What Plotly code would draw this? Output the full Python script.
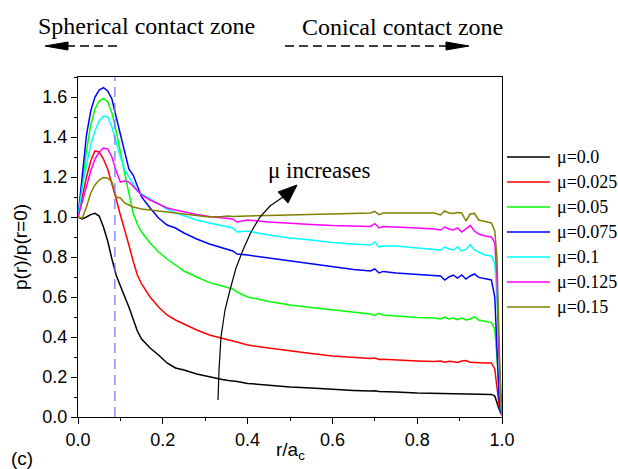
import plotly.graph_objects as go

# ---------------- data ----------------
r = [0, 0.01, 0.02, 0.03, 0.04, 0.05, 0.06, 0.07, 0.08, 0.09, 0.10, 0.11, 0.12, 0.13, 0.14, 0.15,
     0.17, 0.19, 0.21, 0.23, 0.25, 0.28, 0.31, 0.34, 0.355, 0.365, 0.375, 0.40, 0.45, 0.50, 0.55,
     0.60, 0.65, 0.69, 0.70, 0.71, 0.72, 0.75, 0.80, 0.84, 0.855, 0.865, 0.875, 0.885, 0.895,
     0.905, 0.915, 0.925, 0.935, 0.945, 0.96, 0.975, 0.983, 0.988, 0.993, 0.997, 1.0]

p_mu0 = [1.0, 0.99, 1.0, 1.012, 1.018, 1.005, 0.95, 0.88, 0.79, 0.71, 0.655, 0.605, 0.55, 0.49, 0.43, 0.39,
         0.345, 0.31, 0.27, 0.245, 0.235, 0.215, 0.2, 0.187, 0.182, 0.18, 0.177, 0.168, 0.158, 0.15, 0.145,
         0.138, 0.133, 0.13, 0.131, 0.128, 0.128, 0.125, 0.12, 0.118, 0.118, 0.12, 0.117, 0.118, 0.116,
         0.117, 0.116, 0.115, 0.116, 0.115, 0.114, 0.113, 0.105, 0.07, 0.04, 0.02, 0.01]

p_mu0025 = [1.0, 1.1, 1.2, 1.28, 1.33, 1.325, 1.29, 1.24, 1.17, 1.09, 1.01, 0.94, 0.86, 0.78, 0.71, 0.665,
            0.6, 0.55, 0.51, 0.485, 0.465, 0.435, 0.41, 0.392, 0.385, 0.38, 0.375, 0.36, 0.345, 0.33, 0.318,
            0.305, 0.298, 0.292, 0.295, 0.288, 0.289, 0.285, 0.28, 0.277, 0.28, 0.274, 0.279, 0.276, 0.273,
            0.28, 0.282, 0.274, 0.272, 0.271, 0.27, 0.27, 0.24, 0.15, 0.06, 0.02, 0.01]

p_mu005 = [1.0, 1.18, 1.33, 1.46, 1.54, 1.58, 1.593, 1.575, 1.52, 1.43, 1.32, 1.22, 1.12, 1.02, 0.965, 0.925,
           0.87, 0.825, 0.79, 0.76, 0.73, 0.70, 0.672, 0.655, 0.648, 0.64, 0.625, 0.60, 0.578, 0.56, 0.548,
           0.535, 0.525, 0.515, 0.508, 0.518, 0.51, 0.505, 0.498, 0.495, 0.49, 0.5, 0.49, 0.495, 0.487,
           0.495, 0.485, 0.49, 0.502, 0.485, 0.478, 0.472, 0.44, 0.3, 0.12, 0.04, 0.01]

p_mu0075 = [1.0, 1.22, 1.41, 1.53, 1.6, 1.635, 1.647, 1.63, 1.59, 1.5, 1.41, 1.32, 1.24, 1.21, 1.15, 1.1,
            1.045, 0.995, 0.96, 0.945, 0.92, 0.89, 0.865, 0.848, 0.838, 0.83, 0.815, 0.81, 0.795, 0.78, 0.765,
            0.75, 0.737, 0.73, 0.74, 0.72, 0.728, 0.72, 0.712, 0.705, 0.705, 0.685, 0.7, 0.71, 0.695,
            0.71, 0.69, 0.705, 0.715, 0.698, 0.69, 0.685, 0.6, 0.3, 0.1, 0.03, 0.01]

p_mu01 = [1.0, 1.15, 1.26, 1.36, 1.43, 1.48, 1.505, 1.5, 1.45, 1.37, 1.3, 1.235, 1.2, 1.16, 1.13, 1.115,
          1.09, 1.065, 1.04, 1.02, 1.005, 0.985, 0.97, 0.955, 0.947, 0.945, 0.925, 0.93, 0.91, 0.895, 0.885,
          0.872, 0.865, 0.86, 0.875, 0.85, 0.855, 0.855, 0.845, 0.838, 0.835, 0.85, 0.84, 0.835, 0.85,
          0.83, 0.838, 0.862, 0.835, 0.825, 0.81, 0.805, 0.77, 0.6, 0.25, 0.06, 0.01]

p_mu0125 = [1.0, 1.08, 1.16, 1.23, 1.29, 1.325, 1.345, 1.34, 1.3, 1.23, 1.175, 1.18, 1.175, 1.155, 1.13, 1.11,
            1.085, 1.065, 1.045, 1.035, 1.025, 1.012, 1.003, 0.995, 0.992, 0.99, 0.975, 0.985, 0.975, 0.967, 0.962,
            0.957, 0.955, 0.953, 0.967, 0.945, 0.952, 0.95, 0.945, 0.94, 0.935, 0.95, 0.94, 0.935, 0.945,
            0.925, 0.94, 0.957, 0.93, 0.915, 0.905, 0.9, 0.87, 0.7, 0.3, 0.08, 0.01]

p_mu015 = [1.0, 0.995, 1.05, 1.12, 1.16, 1.185, 1.197, 1.195, 1.175, 1.1, 1.095, 1.07, 1.06, 1.05, 1.045, 1.04,
           1.035, 1.03, 1.025, 1.02, 1.018, 1.008, 1.0, 1.002, 1.005, 1.003, 1.003, 1.005, 1.008, 1.01, 1.012,
           1.015, 1.018, 1.02, 1.028, 1.012, 1.02, 1.02, 1.02, 1.02, 1.01, 1.03, 1.02, 1.018, 1.022,
           1.02, 0.98, 1.015, 1.018, 0.985, 0.978, 0.97, 0.93, 0.8, 0.4, 0.1, 0.01]

series_names = ["μ=0.0", "μ=0.025", "μ=0.05", "μ=0.075", "μ=0.1", "μ=0.125", "μ=0.15"]
series_values = [p_mu0, p_mu0025, p_mu005, p_mu0075, p_mu01, p_mu0125, p_mu015]
series_colors = ["#000000", "#ff0000", "#00ff00", "#0000ff", "#00ffff", "#ff00ff", "#808000"]

x_ticks = [0.0, 0.2, 0.4, 0.6, 0.8, 1.0]
y_ticks = [0.0, 0.2, 0.4, 0.6, 0.8, 1.0, 1.2, 1.4, 1.6]
transition_r = 0.087

# ---------------- layout geometry ----------------
W, H = 618, 469
L, R, T, B = 78, 116, 77, 52
PW, PH = W - L - R, H - T - B


def px(xp):
    return (xp - L) / PW


def py(yp):
    return (H - B - yp) / PH


SANS = "Liberation Sans, Arial, sans-serif"
SERIF = "Liberation Serif, Times New Roman, serif"

fig = go.Figure()
for name, vals, col in zip(series_names, series_values, series_colors):
    fig.add_trace(go.Scatter(x=r, y=vals, mode="lines", name=name,
                             line=dict(color=col, width=1.5), showlegend=False))

shapes = []
annotations = []

# vertical dashed line
shapes.append(dict(type="line", xref="x", yref="paper", x0=transition_r, x1=transition_r, y0=0, y1=1,
                   line=dict(color="#6f6ff5", width=1.2, dash="10px,6px")))

# manual legend
for i, (name, col) in enumerate(zip(series_names, series_colors)):
    yy = 157 + 25 * i
    shapes.append(dict(type="line", xref="paper", yref="paper", x0=px(507), x1=px(550),
                       y0=py(yy), y1=py(yy), line=dict(color=col, width=1.5)))
    annotations.append(dict(xref="paper", yref="paper", x=px(555), y=py(yy), text=name,
                            showarrow=False, xanchor="left", yanchor="middle",
                            font=dict(family=SERIF, size=18, color="black")))

# top zone labels
annotations.append(dict(xref="paper", yref="paper", x=px(36), y=py(26), text="Spherical contact zone",
                        showarrow=False, xanchor="left", yanchor="middle",
                        font=dict(family=SERIF, size=24, color="black")))
annotations.append(dict(xref="paper", yref="paper", x=px(300), y=py(27), text="Conical contact zone",
                        showarrow=False, xanchor="left", yanchor="middle",
                        font=dict(family=SERIF, size=24, color="black")))

# dashed arrows at top
ya = 46
shapes.append(dict(type="line", xref="paper", yref="paper", x0=px(66), x1=px(118), y0=py(ya), y1=py(ya),
                   line=dict(color="black", width=1.5, dash="9px,5px")))
shapes.append(dict(type="path", xref="paper", yref="paper", fillcolor="black", line=dict(color="black", width=1),
                   path=f"M{px(45)},{py(ya)} L{px(68)},{py(ya - 4)} L{px(68)},{py(ya + 4)} Z"))
shapes.append(dict(type="line", xref="paper", yref="paper", x0=px(285), x1=px(448), y0=py(ya), y1=py(ya),
                   line=dict(color="black", width=1.5, dash="9px,5px")))
shapes.append(dict(type="path", xref="paper", yref="paper", fillcolor="black", line=dict(color="black", width=1),
                   path=f"M{px(469)},{py(ya)} L{px(446)},{py(ya - 4)} L{px(446)},{py(ya + 4)} Z"))

# curved arrow "mu increases"
curve_pts = [(218, 400), (219, 370), (221, 337), (225, 310), (230, 290), (236, 268), (243, 250),
             (251, 232), (260, 217), (270, 206), (283, 197)]
path = "M" + " L".join(f"{px(a)},{py(b)}" for a, b in curve_pts)
shapes.append(dict(type="path", xref="paper", yref="paper", path=path, line=dict(color="black", width=1.2)))
shapes.append(dict(type="path", xref="paper", yref="paper", fillcolor="black", line=dict(color="black", width=1),
                   path=f"M{px(297)},{py(185)} L{px(278)},{py(192)} L{px(288)},{py(203)} Z"))
annotations.append(dict(xref="paper", yref="paper", x=px(266), y=py(170), text="μ increases",
                        showarrow=False, xanchor="left", yanchor="middle",
                        font=dict(family=SERIF, size=23, color="black")))

# axis titles and panel label
annotations.append(dict(xref="paper", yref="paper", x=px(20), y=0.5, text="p(r)/p(r=0)", textangle=-90,
                        showarrow=False, xanchor="center", yanchor="middle",
                        font=dict(family=SANS, size=19, color="black")))
annotations.append(dict(xref="paper", yref="paper", x=px(290), y=py(451), text="r/a<sub>c</sub>",
                        showarrow=False, xanchor="center", yanchor="middle",
                        font=dict(family=SANS, size=19, color="black")))
annotations.append(dict(xref="paper", yref="paper", x=px(22), y=py(458), text="(c)",
                        showarrow=False, xanchor="center", yanchor="middle",
                        font=dict(family=SANS, size=19, color="black")))

axis_common = dict(showline=True, linecolor="black", linewidth=1, mirror=True, showgrid=False,
                   zeroline=False, ticks="outside", ticklen=6, tickwidth=1, tickcolor="black",
                   tickfont=dict(family=SANS, size=18, color="black"),
                   minor=dict(ticks="outside", ticklen=3, tickwidth=1, tickcolor="black", showgrid=False))

fig.update_layout(
    width=W, height=H, margin=dict(l=L, r=R, t=T, b=B),
    paper_bgcolor="white", plot_bgcolor="white",
    showlegend=False,
    xaxis=dict(range=[0, 1.0], tickvals=x_ticks, ticktext=[f"{v:.1f}" for v in x_ticks],
               minor_dtick=0.1, minor_tick0=0, **axis_common),
    yaxis=dict(range=[0, 1.7], tickvals=y_ticks, ticktext=[f"{v:.1f}" for v in y_ticks],
               minor_dtick=0.1, minor_tick0=0, **axis_common),
    shapes=shapes, annotations=annotations,
)

fig.write_html("out.html")
